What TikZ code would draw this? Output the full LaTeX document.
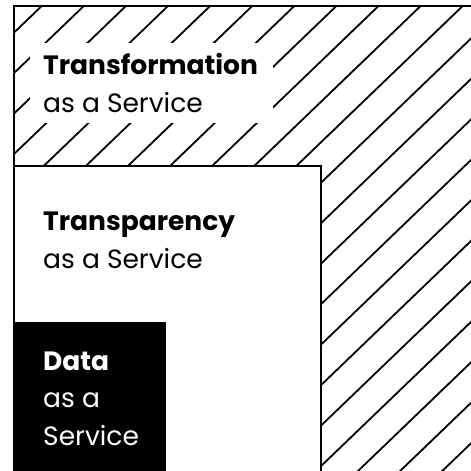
\documentclass[tikz,border=0pt]{standalone}
\usepackage{fontspec}
\setmainfont{Poppins}
\begin{document}
\begin{tikzpicture}[x=1pt,y=-1pt]
  \tikzstyle{boxline}=[draw=black, line width=2pt]
  \tikzstyle{hatch}=[black, line width=1.8pt]
  \tikzstyle{svctext}=[anchor=base west, inner sep=0pt, align=left, font=\fontsize{26.5}{37.5}\selectfont]
  \useasboundingbox (0,0) rectangle (471,471);
  \clip (0,0) rectangle (471,471);
  % hatched outer square
  \begin{scope}
    \clip (14,6) rectangle (490,490);
    \foreach \k in {0,...,22}
      \draw[hatch] (41.7+42.1*\k,6) -- ++(-520,500);
  \end{scope}
  \draw[boxline] (14,490) -- (14,6) -- (490,6);
  % transparency
  \draw[boxline, fill=white] (14,490) -- (14,166) -- (321,166) -- (321,490);
  % data
  \fill[black] (14,322) rectangle (166,490);
  % labels (anchored at the last baseline)
  \fill[white] (30,43) rectangle (273,123);
  \node[svctext] (transformation) at (43,112) {\textbf{Transformation}\\as a Service};
  \node[svctext] (transparency) at (43,268) {\textbf{Transparency}\\as a Service};
  \node[svctext, text=white] (data) at (43,445) {\textbf{Data}\\as a\\Service};
\end{tikzpicture}
\end{document}
